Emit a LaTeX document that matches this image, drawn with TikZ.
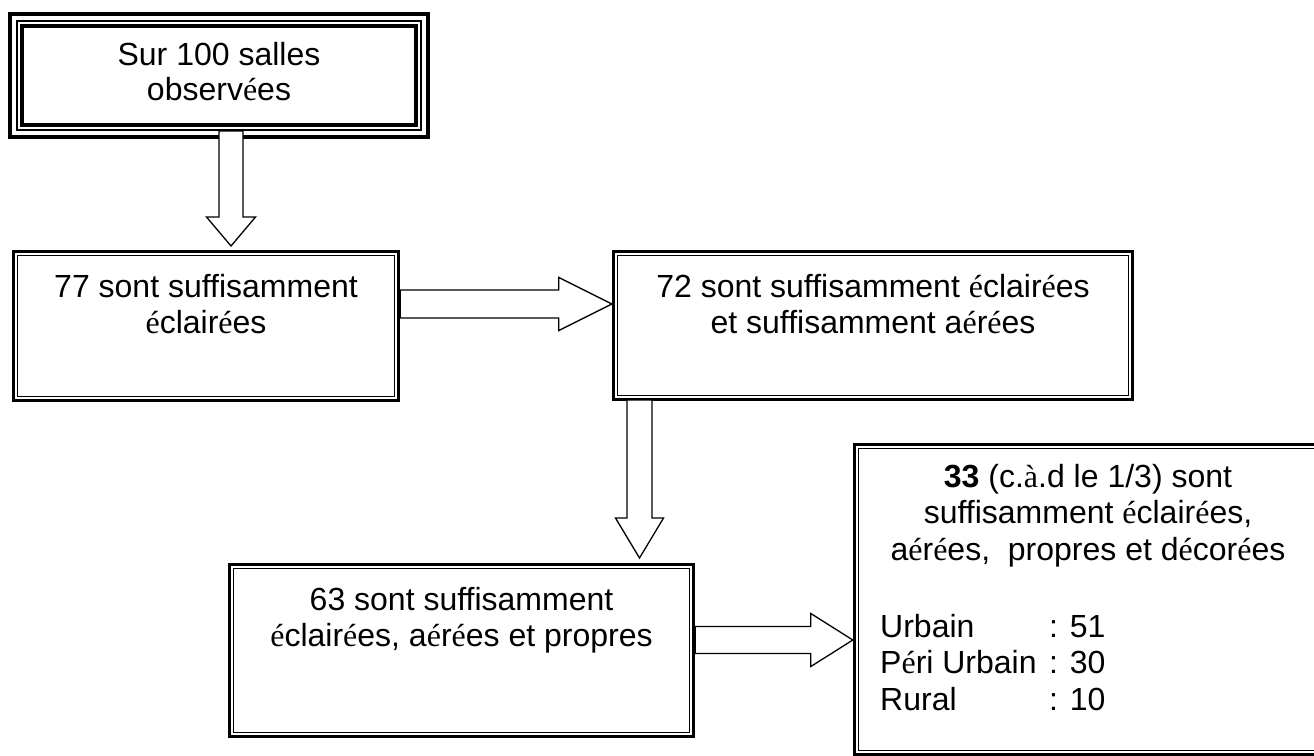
\documentclass[tikz,border=0pt]{standalone}
\usepackage{fontspec}
\setmainfont{Liberation Sans}
\newfontfamily\serf{Liberation Serif}
\usetikzlibrary{calc}
\newcommand\se[1]{{\serf #1}}
\tikzset{
  txt/.style={inner sep=0pt, anchor=base, font=\fontsize{32}{36.8}\selectfont},
  txtl/.style={txt, anchor=base west},
  area/.style={draw=none, inner sep=0pt, minimum width=#1},
  blk/.style={draw=black, fill=white, line width=1.3pt, line join=miter},
}
\newcommand\dblbox[1]{%
  \draw[line width=3.5pt] ([xshift=1.75pt,yshift=-1.75pt]#1.north west) rectangle ([xshift=-1.75pt,yshift=1.75pt]#1.south east);
  \draw[line width=1pt] ([xshift=6pt,yshift=-6pt]#1.north west) rectangle ([xshift=-6pt,yshift=6pt]#1.south east);}
\newcommand\tribox[1]{%
  \draw[line width=4pt] ([xshift=2pt,yshift=-2pt]#1.north west) rectangle ([xshift=-2pt,yshift=2pt]#1.south east);
  \draw[line width=1.5pt] ([xshift=9pt,yshift=-9pt]#1.north west) rectangle ([xshift=-9pt,yshift=9pt]#1.south east);
  \draw[line width=4pt] ([xshift=14pt,yshift=-14pt]#1.north west) rectangle ([xshift=-14pt,yshift=14pt]#1.south east);}
% down arrow: start, tip, shaft half, head half, head length
\newcommand\darrow[5]{%
  \draw[blk] ($(#1)+(-#3,0)$) -- ($(#2)+(-#3,-#5)$) -- ($(#2)+(-#4,-#5)$) -- (#2) -- ($(#2)+(#4,-#5)$) -- ($(#2)+(#3,-#5)$) -- ($(#1)+(#3,0)$) -- cycle;}
% right arrow
\newcommand\rarrow[5]{%
  \draw[blk] ($(#1)+(0,-#3)$) -- ($(#2)+(-#5,-#3)$) -- ($(#2)+(-#5,-#4)$) -- (#2) -- ($(#2)+(-#5,#4)$) -- ($(#2)+(-#5,#3)$) -- ($(#1)+(0,#3)$) -- cycle;}
\begin{document}
\begin{tikzpicture}[x=1pt,y=-1pt]
\useasboundingbox[fill=white] (0,0) rectangle (1314,755);
% boxes
\node[area=422pt, minimum height=127pt] (b1) at (219,75.5) {};
\node[area=388pt, minimum height=152pt] (b2) at (206,326) {};
\node[area=522pt, minimum height=151pt] (b3) at (873,325.5) {};
\node[area=467pt, minimum height=175pt] (b4) at (461.5,650.5) {};
\node[area=470pt, minimum height=313pt] (b5) at (1088,599.5) {};
\tribox{b1}
\dblbox{b2}
\dblbox{b3}
\dblbox{b4}
\dblbox{b5}
% texts
\node[txt] (t1a) at (219,65) {Sur 100 salles};
\node[txt] (t1b) at (219,100) {observ\se{é}es};
\node[txt] (t2a) at (206,297) {77 sont suffisamment};
\node[txt] (t2b) at (206,333) {\se{é}clair\se{é}es};
\node[txt] (t3a) at (873,297) {72 sont suffisamment \se{é}clair\se{é}es};
\node[txt] (t3b) at (873,333) {et suffisamment a\se{é}r\se{é}es};
\node[txt] (t4a) at (461.5,610) {63 sont suffisamment};
\node[txt] (t4b) at (461.5,646) {\se{é}clair\se{é}es, a\se{é}r\se{é}es et propres};
\node[txt] (t5a) at (1088,487) {\textbf{33} (c.\se{à}.d le 1/3) sont};
\node[txt] (t5b) at (1088,523.5) {suffisamment \se{é}clair\se{é}es,};
\node[txt] (t5c) at (1088,560) {a\se{é}r\se{é}es,\ \ propres et d\se{é}cor\se{é}es};
\node[txtl] (u1) at (880,637) {Urbain};
\node[txtl] (u2) at (880,673) {P\se{é}ri Urbain};
\node[txtl] (u3) at (880,710) {Rural};
\node[txtl] (v1) at (1049,637) {: 51};
\node[txtl] (v2) at (1049,673) {: 30};
\node[txtl] (v3) at (1049,710) {: 10};
% arrows
\coordinate (a1s) at (231,131);
\coordinate (a1t) at (231,246);
\coordinate (a2s) at (b2.east |- 0,304);
\coordinate (a2t) at (b3.west |- a2s);
\coordinate (a3s) at (639.5,400);
\coordinate (a3t) at (639.5,558);
\coordinate (a4s) at (b4.east |- 0,640);
\coordinate (a4t) at (b5.west |- a4s);
\darrow{a1s}{a1t}{12}{24.5}{29}
\rarrow{a2s}{a2t}{14}{26.5}{53}
\darrow{a3s}{a3t}{12.5}{24}{40}
\rarrow{a4s}{a4t}{13.5}{26.5}{42}
\end{tikzpicture}
\end{document}
